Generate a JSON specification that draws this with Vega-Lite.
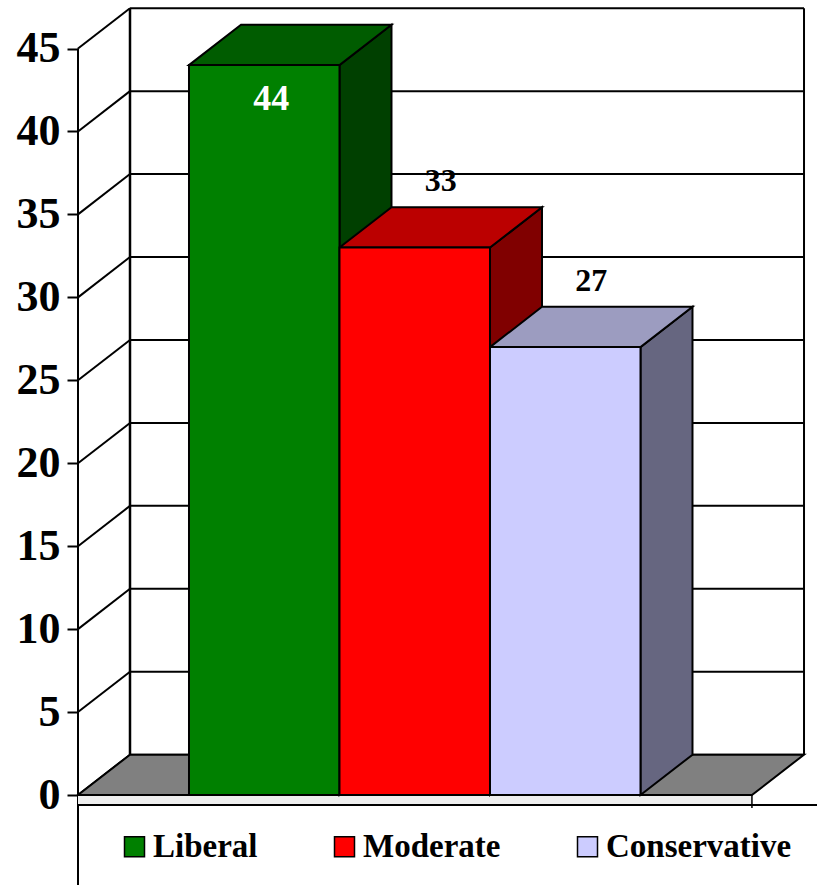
{
  "$schema": "https://vega.github.io/schema/vega-lite/v6.json",
  "width": 739,
  "height": 885,
  "autosize": {"type": "none"},
  "padding": {"left": 78, "top": 0, "right": 0, "bottom": 0},
  "background": "white",
  "config": {
    "view": {"stroke": null},
    "font": "Liberation Serif",
    "axisX": {"disable": true},
    "axisY": {
      "grid": false, "domain": false,
      "tickSize": 11, "tickWidth": 2, "tickColor": "black",
      "labelFont": "Liberation Serif", "labelFontWeight": "bold", "labelFontSize": 44,
      "labelColor": "black", "labelPadding": 7, "labelBaseline": "middle",
      "titleFontSize": 0, "titleOpacity": 0
    }
  },
  "datasets": {
    "bars": [
      {"party": "Liberal", "value": 44},
      {"party": "Moderate", "value": 33},
      {"party": "Conservative", "value": 27}
    ],
    "ticks": [
      {"tick": 0}, {"tick": 5}, {"tick": 10}, {"tick": 15}, {"tick": 20},
      {"tick": 25}, {"tick": 30}, {"tick": 35}, {"tick": 40}, {"tick": 45}
    ]
  },
  "layer": [
    {
      "data": {"name": "ticks"},
      "transform": [{"calculate": "datum.tick + 2.43", "as": "yb"}],
      "mark": {"type": "rule", "color": "black", "strokeWidth": 2},
      "encoding": {
        "x": {"datum": 0.3455, "type": "quantitative", "scale": {"domain": [0, 4.9103], "nice": false, "zero": false}},
        "x2": {"datum": 4.824},
        "y": {"field": "yb", "type": "quantitative", "title": null, "axis": {"values": [0, 5, 10, 15, 20, 25, 30, 35, 40, 45]}, "scale": {"domain": [-5.425, 47.924], "nice": false, "zero": false}}
      }
    },
    {
      "data": {"values": [{}]},
      "mark": {"type": "rule", "color": "black", "strokeWidth": 2.5},
      "encoding": {
        "x": {"datum": 0.3455, "type": "quantitative", "scale": {"domain": [0, 4.9103], "nice": false, "zero": false}},
        "y": {"datum": 2.43, "type": "quantitative", "title": null, "axis": {"values": [0, 5, 10, 15, 20, 25, 30, 35, 40, 45]}, "scale": {"domain": [-5.425, 47.924], "nice": false, "zero": false}},
        "y2": {"datum": 47.43}
      }
    },
    {
      "data": {"values": [{}]},
      "mark": {"type": "rule", "color": "black", "strokeWidth": 2},
      "encoding": {
        "x": {"datum": 4.824, "type": "quantitative", "scale": {"domain": [0, 4.9103], "nice": false, "zero": false}},
        "y": {"datum": 2.43, "type": "quantitative", "title": null, "axis": {"values": [0, 5, 10, 15, 20, 25, 30, 35, 40, 45]}, "scale": {"domain": [-5.425, 47.924], "nice": false, "zero": false}},
        "y2": {"datum": 47.43}
      }
    },
    {
      "data": {"name": "ticks"},
      "transform": [{"calculate": "datum.tick + 2.43", "as": "yb"}],
      "mark": {"type": "rule", "color": "black", "strokeWidth": 2},
      "encoding": {
        "x": {"datum": 0, "type": "quantitative", "scale": {"domain": [0, 4.9103], "nice": false, "zero": false}},
        "x2": {"datum": 0.3455},
        "y": {"field": "tick", "type": "quantitative", "title": null, "axis": {"values": [0, 5, 10, 15, 20, 25, 30, 35, 40, 45]}, "scale": {"domain": [-5.425, 47.924], "nice": false, "zero": false}},
        "y2": {"field": "yb"}
      }
    },
    {
      "data": {"values": [{}]},
      "mark": {"type": "rule", "color": "black", "strokeWidth": 2},
      "encoding": {
        "x": {"datum": 0, "type": "quantitative", "scale": {"domain": [0, 4.9103], "nice": false, "zero": false}},
        "y": {"datum": 45, "type": "quantitative", "title": null, "axis": {"values": [0, 5, 10, 15, 20, 25, 30, 35, 40, 45]}, "scale": {"domain": [-5.425, 47.924], "nice": false, "zero": false}},
        "y2": {"datum": -5.425}
      }
    },
    {
      "data": {"values": [{}]},
      "mark": {"type": "rect", "fill": "#eeeeee"},
      "encoding": {
        "x": {"datum": 0, "type": "quantitative", "scale": {"domain": [0, 4.9103], "nice": false, "zero": false}},
        "x2": {"datum": 4.478},
        "y": {"datum": 0, "type": "quantitative", "title": null, "axis": {"values": [0, 5, 10, 15, 20, 25, 30, 35, 40, 45]}, "scale": {"domain": [-5.425, 47.924], "nice": false, "zero": false}},
        "y2": {"datum": -0.603}
      }
    },
    {
      "data": {"values": [{}]},
      "transform": [
        {"calculate": "0", "as": "p0"},
        {"calculate": "1", "as": "p1"},
        {"fold": ["p0", "p1"], "as": ["pk", "t"]},
        {"calculate": "datum.t * 2.43", "as": "fy"},
        {"calculate": "datum.t * 0.3455", "as": "fx"},
        {"calculate": "4.478 + datum.t * 0.3455", "as": "fx2"}
      ],
      "mark": {"type": "area", "orient": "horizontal", "fill": "#808080", "stroke": "black", "strokeWidth": 2},
      "encoding": {
        "y": {"field": "fy", "type": "quantitative", "title": null, "axis": {"values": [0, 5, 10, 15, 20, 25, 30, 35, 40, 45]}, "scale": {"domain": [-5.425, 47.924], "nice": false, "zero": false}},
        "x": {"field": "fx", "type": "quantitative", "stack": null, "scale": {"domain": [0, 4.9103], "nice": false, "zero": false}},
        "x2": {"field": "fx2"}
      }
    },
    {
      "data": {"values": [{}]},
      "mark": {"type": "rule", "color": "black", "strokeWidth": 2},
      "encoding": {
        "x": {"datum": 0, "type": "quantitative", "scale": {"domain": [0, 4.9103], "nice": false, "zero": false}},
        "x2": {"datum": 4.9103},
        "y": {"datum": -0.603, "type": "quantitative", "title": null, "axis": {"values": [0, 5, 10, 15, 20, 25, 30, 35, 40, 45]}, "scale": {"domain": [-5.425, 47.924], "nice": false, "zero": false}}
      }
    },
    {
      "data": {"values": [{}]},
      "mark": {"type": "rule", "color": "black", "strokeWidth": 1.5},
      "encoding": {
        "x": {"datum": 4.478, "type": "quantitative", "scale": {"domain": [0, 4.9103], "nice": false, "zero": false}},
        "y": {"datum": 0, "type": "quantitative", "title": null, "axis": {"values": [0, 5, 10, 15, 20, 25, 30, 35, 40, 45]}, "scale": {"domain": [-5.425, 47.924], "nice": false, "zero": false}},
        "y2": {"datum": -0.78}
      }
    },
    {
      "data": {"name": "bars"},
      "transform": [
        {"calculate": "indexof(['Liberal','Moderate','Conservative'], datum.party)", "as": "i"},
        {"calculate": "0.7375 + datum.i", "as": "x0"},
        {"calculate": "0", "as": "p0"},
        {"calculate": "1", "as": "p1"},
        {"fold": ["p0", "p1"], "as": ["pk", "t"]},
        {"calculate": "datum.x0 + 1 + datum.t * 0.3455", "as": "sx"},
        {"calculate": "datum.t * 2.43", "as": "sy"},
        {"calculate": "datum.value + datum.t * 2.43", "as": "sy2"}
      ],
      "mark": {"type": "area", "orient": "vertical", "stroke": "black", "strokeWidth": 2},
      "encoding": {
        "x": {"field": "sx", "type": "quantitative", "scale": {"domain": [0, 4.9103], "nice": false, "zero": false}},
        "y": {"field": "sy", "type": "quantitative", "title": null, "stack": null, "axis": {"values": [0, 5, 10, 15, 20, 25, 30, 35, 40, 45]}, "scale": {"domain": [-5.425, 47.924], "nice": false, "zero": false}},
        "y2": {"field": "sy2"},
        "color": {"field": "party", "type": "nominal", "legend": null,
          "scale": {"domain": ["Liberal", "Moderate", "Conservative"], "range": ["#004000", "#800000", "#666680"]}}
      }
    },
    {
      "data": {"name": "bars"},
      "transform": [
        {"calculate": "indexof(['Liberal','Moderate','Conservative'], datum.party)", "as": "i"},
        {"calculate": "0.7375 + datum.i", "as": "x0"},
        {"calculate": "0", "as": "p0"},
        {"calculate": "1", "as": "p1"},
        {"fold": ["p0", "p1"], "as": ["pk", "t"]},
        {"calculate": "datum.value + datum.t * 2.43", "as": "ty"},
        {"calculate": "datum.x0 + datum.t * 0.3455", "as": "tx"},
        {"calculate": "datum.x0 + 1 + datum.t * 0.3455", "as": "tx2"}
      ],
      "mark": {"type": "area", "orient": "horizontal", "stroke": "black", "strokeWidth": 2},
      "encoding": {
        "y": {"field": "ty", "type": "quantitative", "title": null, "axis": {"values": [0, 5, 10, 15, 20, 25, 30, 35, 40, 45]}, "scale": {"domain": [-5.425, 47.924], "nice": false, "zero": false}},
        "x": {"field": "tx", "type": "quantitative", "stack": null, "scale": {"domain": [0, 4.9103], "nice": false, "zero": false}},
        "x2": {"field": "tx2"},
        "color": {"field": "party", "type": "nominal", "legend": null,
          "scale": {"domain": ["Liberal", "Moderate", "Conservative"], "range": ["#005c00", "#bb0000", "#9c9cc0"]}}
      }
    },
    {
      "data": {"name": "bars"},
      "transform": [
        {"calculate": "indexof(['Liberal','Moderate','Conservative'], datum.party)", "as": "i"},
        {"calculate": "0.7375 + datum.i", "as": "x0"},
        {"calculate": "datum.x0 + 1", "as": "x1"}
      ],
      "mark": {"type": "rect", "stroke": "black", "strokeWidth": 2},
      "encoding": {
        "x": {"field": "x0", "type": "quantitative", "scale": {"domain": [0, 4.9103], "nice": false, "zero": false}},
        "x2": {"field": "x1"},
        "y": {"field": "value", "type": "quantitative", "title": null, "axis": {"values": [0, 5, 10, 15, 20, 25, 30, 35, 40, 45]}, "scale": {"domain": [-5.425, 47.924], "nice": false, "zero": false}},
        "y2": {"datum": 0},
        "color": {
          "field": "party", "type": "nominal",
          "scale": {"domain": ["Liberal", "Moderate", "Conservative"], "range": ["#008000", "#ff0000", "#ccccff"]},
          "legend": {
            "orient": "none", "legendX": 40, "legendY": 830, "direction": "horizontal",
            "title": null, "symbolType": "square", "symbolSize": 400,
            "symbolStrokeColor": "black", "symbolStrokeWidth": 1.5,
            "labelFont": "Liberation Serif", "labelFontSize": 33, "labelFontWeight": "bold",
            "labelColor": "black", "labelLimit": 0, "labelOffset": 2,
            "columnPadding": 70, "padding": 0
          }
        }
      }
    },
    {
      "data": {"name": "bars"},
      "transform": [
        {"filter": "datum.party === 'Liberal'"},
        {"calculate": "0.7375 + 0.5", "as": "lx"}
      ],
      "mark": {"type": "text", "color": "white", "font": "Liberation Serif", "fontWeight": "bold", "fontSize": 36, "baseline": "alphabetic", "align": "center", "dx": 7, "dy": 45},
      "encoding": {
        "x": {"field": "lx", "type": "quantitative", "scale": {"domain": [0, 4.9103], "nice": false, "zero": false}},
        "y": {"field": "value", "type": "quantitative", "title": null, "axis": {"values": [0, 5, 10, 15, 20, 25, 30, 35, 40, 45]}, "scale": {"domain": [-5.425, 47.924], "nice": false, "zero": false}},
        "text": {"field": "value", "type": "quantitative"}
      }
    },
    {
      "data": {"name": "bars"},
      "transform": [
        {"filter": "datum.party !== 'Liberal'"},
        {"calculate": "indexof(['Liberal','Moderate','Conservative'], datum.party)", "as": "i"},
        {"calculate": "0.7375 + datum.i + 0.5 + 0.1728", "as": "lx"},
        {"calculate": "datum.value + 2.43", "as": "ly"}
      ],
      "mark": {"type": "text", "color": "black", "font": "Liberation Serif", "fontWeight": "bold", "fontSize": 32, "baseline": "alphabetic", "align": "center", "dy": -16},
      "encoding": {
        "x": {"field": "lx", "type": "quantitative", "scale": {"domain": [0, 4.9103], "nice": false, "zero": false}},
        "y": {"field": "ly", "type": "quantitative", "title": null, "axis": {"values": [0, 5, 10, 15, 20, 25, 30, 35, 40, 45]}, "scale": {"domain": [-5.425, 47.924], "nice": false, "zero": false}},
        "text": {"field": "value", "type": "quantitative"}
      }
    }
  ],
  "resolve": {"scale": {"color": "independent"}}
}
